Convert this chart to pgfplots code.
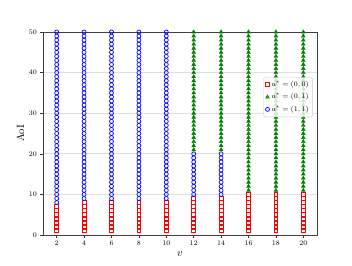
\documentclass[border=0pt]{standalone}
\usepackage{pgfplots}
\pgfplotsset{compat=1.18}
\definecolor{mplgreen}{rgb}{0,0.5,0}
\begin{document}
\begin{tikzpicture}
\path (0pt,0pt) rectangle (352pt,265pt);
\begin{axis}[
  at={(43pt,30pt)}, anchor=south west,
  scale only axis, width=274pt, height=203pt,
  xmin=1, xmax=21, ymin=0, ymax=50,
  xtick={2,4,...,20}, ytick={0,10,...,50},
  tick align=outside, xtick pos=bottom, ytick pos=left,
  major tick length=2.5pt,
  tick style={black!80, line width=0.5pt},
  axis line style={black!75, line width=0.8pt},
  ymajorgrids, grid style={gray!25, line width=0.7pt},
  ticklabel style={font=\fontsize{7.5}{9}\selectfont},
  xlabel={$v$}, ylabel={AoI},
  label style={font=\fontsize{10.5}{12}\selectfont},
  xlabel style={yshift=1pt}, ylabel style={yshift=-2pt},
  legend style={at={(0.985,0.778)}, anchor=north east, draw=gray!40, rounded corners=1.5pt,
    fill=white, fill opacity=0.8, text opacity=1, font=\fontsize{7.5}{8.5}\selectfont,
    row sep=1.5pt, inner sep=2pt},
  legend cell align=left,
  clip=true,
]
\addplot[only marks, mark=square, mark size=1.9pt, color=red, mark options={draw=red, fill=none, line width=0.7pt}] coordinates {
(2,1)(2,2)(2,3)(2,4)(2,5)(2,6)(2,7)
(4,1)(4,2)(4,3)(4,4)(4,5)(4,6)(4,7)(4,8)
(6,1)(6,2)(6,3)(6,4)(6,5)(6,6)(6,7)(6,8)
(8,1)(8,2)(8,3)(8,4)(8,5)(8,6)(8,7)(8,8)
(10,1)(10,2)(10,3)(10,4)(10,5)(10,6)(10,7)(10,8)
(12,1)(12,2)(12,3)(12,4)(12,5)(12,6)(12,7)(12,8)(12,9)
(14,1)(14,2)(14,3)(14,4)(14,5)(14,6)(14,7)(14,8)(14,9)
(16,1)(16,2)(16,3)(16,4)(16,5)(16,6)(16,7)(16,8)(16,9)(16,10)
(18,1)(18,2)(18,3)(18,4)(18,5)(18,6)(18,7)(18,8)(18,9)(18,10)
(20,1)(20,2)(20,3)(20,4)(20,5)(20,6)(20,7)(20,8)(20,9)(20,10)
};
\addlegendentry{$a^*=(0,0)$}
\addplot[only marks, mark=triangle*, mark size=2.2pt, color=mplgreen, mark options={draw=mplgreen, fill=mplgreen, line width=0.4pt}] coordinates {
(12,21)(12,22)(12,23)(12,24)(12,25)(12,26)(12,27)(12,28)(12,29)(12,30)
(12,31)(12,32)(12,33)(12,34)(12,35)(12,36)(12,37)(12,38)(12,39)(12,40)
(12,41)(12,42)(12,43)(12,44)(12,45)(12,46)(12,47)(12,48)(12,49)(12,50)
(14,21)(14,22)(14,23)(14,24)(14,25)(14,26)(14,27)(14,28)(14,29)(14,30)
(14,31)(14,32)(14,33)(14,34)(14,35)(14,36)(14,37)(14,38)(14,39)(14,40)
(14,41)(14,42)(14,43)(14,44)(14,45)(14,46)(14,47)(14,48)(14,49)(14,50)
(16,11)(16,12)(16,13)(16,14)(16,15)(16,16)(16,17)(16,18)(16,19)(16,20)
(16,21)(16,22)(16,23)(16,24)(16,25)(16,26)(16,27)(16,28)(16,29)(16,30)
(16,31)(16,32)(16,33)(16,34)(16,35)(16,36)(16,37)(16,38)(16,39)(16,40)
(16,41)(16,42)(16,43)(16,44)(16,45)(16,46)(16,47)(16,48)(16,49)(16,50)
(18,11)(18,12)(18,13)(18,14)(18,15)(18,16)(18,17)(18,18)(18,19)(18,20)
(18,21)(18,22)(18,23)(18,24)(18,25)(18,26)(18,27)(18,28)(18,29)(18,30)
(18,31)(18,32)(18,33)(18,34)(18,35)(18,36)(18,37)(18,38)(18,39)(18,40)
(18,41)(18,42)(18,43)(18,44)(18,45)(18,46)(18,47)(18,48)(18,49)(18,50)
(20,11)(20,12)(20,13)(20,14)(20,15)(20,16)(20,17)(20,18)(20,19)(20,20)
(20,21)(20,22)(20,23)(20,24)(20,25)(20,26)(20,27)(20,28)(20,29)(20,30)
(20,31)(20,32)(20,33)(20,34)(20,35)(20,36)(20,37)(20,38)(20,39)(20,40)
(20,41)(20,42)(20,43)(20,44)(20,45)(20,46)(20,47)(20,48)(20,49)(20,50)
};
\addlegendentry{$a^*=(0,1)$}
\addplot[only marks, mark=o, mark size=2pt, color=blue, mark options={draw=blue, fill=none, line width=0.7pt}] coordinates {
(2,8)(2,9)(2,10)
(2,11)(2,12)(2,13)(2,14)(2,15)(2,16)(2,17)(2,18)(2,19)(2,20)
(2,21)(2,22)(2,23)(2,24)(2,25)(2,26)(2,27)(2,28)(2,29)(2,30)
(2,31)(2,32)(2,33)(2,34)(2,35)(2,36)(2,37)(2,38)(2,39)(2,40)
(2,41)(2,42)(2,43)(2,44)(2,45)(2,46)(2,47)(2,48)(2,49)(2,50)
(4,9)(4,10)
(4,11)(4,12)(4,13)(4,14)(4,15)(4,16)(4,17)(4,18)(4,19)(4,20)
(4,21)(4,22)(4,23)(4,24)(4,25)(4,26)(4,27)(4,28)(4,29)(4,30)
(4,31)(4,32)(4,33)(4,34)(4,35)(4,36)(4,37)(4,38)(4,39)(4,40)
(4,41)(4,42)(4,43)(4,44)(4,45)(4,46)(4,47)(4,48)(4,49)(4,50)
(6,9)(6,10)
(6,11)(6,12)(6,13)(6,14)(6,15)(6,16)(6,17)(6,18)(6,19)(6,20)
(6,21)(6,22)(6,23)(6,24)(6,25)(6,26)(6,27)(6,28)(6,29)(6,30)
(6,31)(6,32)(6,33)(6,34)(6,35)(6,36)(6,37)(6,38)(6,39)(6,40)
(6,41)(6,42)(6,43)(6,44)(6,45)(6,46)(6,47)(6,48)(6,49)(6,50)
(8,9)(8,10)
(8,11)(8,12)(8,13)(8,14)(8,15)(8,16)(8,17)(8,18)(8,19)(8,20)
(8,21)(8,22)(8,23)(8,24)(8,25)(8,26)(8,27)(8,28)(8,29)(8,30)
(8,31)(8,32)(8,33)(8,34)(8,35)(8,36)(8,37)(8,38)(8,39)(8,40)
(8,41)(8,42)(8,43)(8,44)(8,45)(8,46)(8,47)(8,48)(8,49)(8,50)
(10,9)(10,10)
(10,11)(10,12)(10,13)(10,14)(10,15)(10,16)(10,17)(10,18)(10,19)(10,20)
(10,21)(10,22)(10,23)(10,24)(10,25)(10,26)(10,27)(10,28)(10,29)(10,30)
(10,31)(10,32)(10,33)(10,34)(10,35)(10,36)(10,37)(10,38)(10,39)(10,40)
(10,41)(10,42)(10,43)(10,44)(10,45)(10,46)(10,47)(10,48)(10,49)(10,50)
(12,10)(12,11)(12,12)(12,13)(12,14)(12,15)(12,16)(12,17)(12,18)(12,19)(12,20)
(14,10)(14,11)(14,12)(14,13)(14,14)(14,15)(14,16)(14,17)(14,18)(14,19)(14,20)
};
\addlegendentry{$a^*=(1,1)$}
\end{axis}
\end{tikzpicture}
\end{document}
